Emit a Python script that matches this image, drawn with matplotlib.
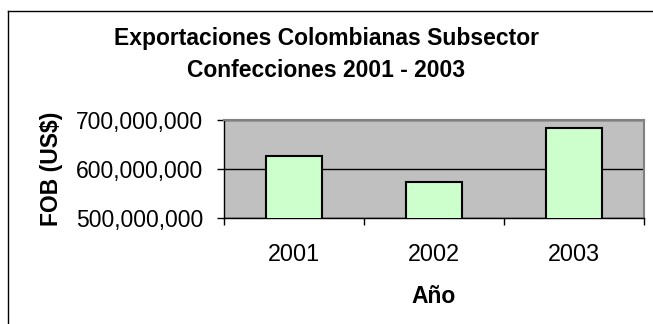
import matplotlib.pyplot as plt
from matplotlib.lines import Line2D
from matplotlib.ticker import FuncFormatter

years = ["2001", "2002", "2003"]
fob = [627000000, 573000000, 684000000]

plt.rcParams['font.family'] = ['Liberation Sans', 'DejaVu Sans']

fig = plt.figure(figsize=(6.53, 3.24), dpi=100)
ax = fig.add_axes([224 / 653, 106 / 324, 420 / 653, 98 / 324])

x = range(len(years))
ax.bar(x, fob, width=0.4, color='#CCFFCC', edgecolor='black', linewidth=1.5, zorder=3)
ax.set_facecolor('#C0C0C0')
ax.set_xlim(-0.5, 2.5)
ax.set_ylim(500000000, 700000000)
ax.set_yticks([500000000, 600000000, 700000000])
ax.yaxis.set_major_formatter(FuncFormatter(lambda v, p: f"{int(v):,}"))
ax.yaxis.grid(True, color='black', linewidth=1, zorder=1)

ax.set_xticks([0, 1, 2])
ax.set_xticklabels(years)
ax.set_xticks([-0.5, 0.5, 1.5, 2.5], minor=True)
ax.tick_params(axis='x', which='major', length=0, pad=18, labelsize=16.8)
ax.tick_params(axis='x', which='minor', length=5, width=1, direction='out')
ax.tick_params(axis='y', length=5, width=1, direction='out', pad=10, labelsize=16.5)

for s in ['top', 'right']:
    ax.spines[s].set_color('#808080')
    ax.spines[s].set_linewidth(1.5)
for s in ['left', 'bottom']:
    ax.spines[s].set_color('black')
    ax.spines[s].set_linewidth(1)

ax.set_xlabel("Año", fontsize=16.5, fontweight='bold', labelpad=14)
ax.set_ylabel("FOB (US$)", fontsize=16.5, fontweight='bold', labelpad=9)

fig.text(326 / 653, 1 - 45 / 324, "Exportaciones Colombianas Subsector", ha='center', va='baseline',
         fontsize=16.5, fontweight='bold')
fig.text(326 / 653, 1 - 77 / 324, "Confecciones 2001 - 2003", ha='center', va='baseline',
         fontsize=16.5, fontweight='bold')

# chart frame (only left and top visible)
fig.add_artist(Line2D([8 / 653, 8 / 653], [0, 1 - 11 / 324], color='black', linewidth=1))
fig.add_artist(Line2D([8 / 653, 1], [1 - 11 / 324, 1 - 11 / 324], color='black', linewidth=1))

fig.savefig("out.png", dpi=100)
